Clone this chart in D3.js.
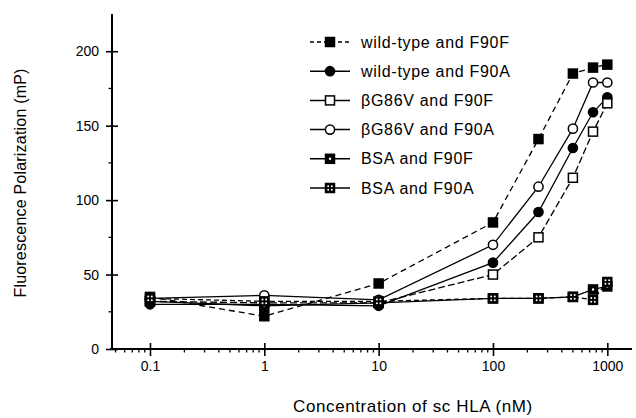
<!DOCTYPE html>
<html>
<head>
<meta charset="utf-8">
<script src="https://cdn.jsdelivr.net/npm/d3@7"></script>
<style>
  body{margin:0;background:#fff;}
  svg{display:block;font-family:"Liberation Sans",Arial,sans-serif;}
</style>
</head>
<body>
<svg id="chart" width="636" height="418"></svg>
<script>
// concentrations (nM)
const conc=[0.1,1,10,100,250,500,750,1000]
const seriesNames=['wild-type and F90F','wild-type and F90A','βG86V and F90F','βG86V and F90A','BSA and F90F','BSA and F90A']
const wtF90F=[35,22,44,85,141,185,189,191]
const wtF90A=[30,30,29,58,92,135,159,169]
const bgF90F=[32,31,31,50,75,115,146,165]
const bgF90A=[34,36,33,70,109,148,179,179]
const bsaF90F=[32,29,31,34,34,35,40,42]
const bsaF90A=[34,32,32,34,34,35,33,45]
const xTickVals=[0.1,1,10,100,1000]
const xTickLabels=['0.1','1','10','100','1000']
const yTickVals=[0,50,100,150,200]

const svg=d3.select('#chart')
const x=d3.scaleLog().domain([0.0447,1644]).range([110,632])
const y=d3.scaleLinear().domain([0,225]).range([349,14])

const styles=[
  {marker:'square',fill:'#000',dash:'6,4'},
  {marker:'circle',fill:'#000',dash:null},
  {marker:'square',fill:'#fff',dash:'7,3'},
  {marker:'circle',fill:'#fff',dash:null},
  {marker:'squareDot',fill:'#000',dash:null},
  {marker:'squareX',fill:'#000',dash:'5,3'}
]
const allSeries=[wtF90F,wtF90A,bgF90F,bgF90A,bsaF90F,bsaF90A]

// axes
const xMinor=[]
for(let e=-2;e<=3;e++){
  for(let m=2;m<=9;m++){
    const v=m*Math.pow(10,e)
    if(v>x.domain()[0]&&v<x.domain()[1])xMinor.push(v)
  }
}
const xAxis=svg.append('g').attr('class','axisX').attr('transform','translate(0,349)')
xAxis.append('line').attr('x1',110).attr('x2',632).attr('stroke','#000').attr('stroke-width',2)
xAxis.selectAll('line.minor').data(xMinor).enter().append('line')
  .attr('class','minor')
  .attr('x1',d=>x(d)).attr('x2',d=>x(d)).attr('y1',0).attr('y2',3.5)
  .attr('stroke','#000').attr('stroke-width',1.3)
xAxis.call(d3.axisBottom(x).tickValues(xTickVals).tickFormat((d,i)=>xTickLabels[i]).tickSize(7).tickPadding(5))
xAxis.select('.domain').remove()
xAxis.selectAll('g.tick line').attr('y1',-6).attr('y2',7).attr('stroke-width',1.6)
xAxis.selectAll('g.tick text').attr('font-size',14).attr('font-family','"Liberation Sans",Arial,sans-serif').attr('fill','#000')

const yAxis=svg.append('g').attr('class','axisY').attr('transform','translate(112,0)')
yAxis.append('line').attr('y1',y(0)).attr('y2',y(225)).attr('stroke','#000').attr('stroke-width',2)
yAxis.selectAll('line.minor').data([25,75,125,175]).enter().append('line')
  .attr('class','minor')
  .attr('x1',-3.5).attr('x2',0).attr('y1',d=>y(d)).attr('y2',d=>y(d))
  .attr('stroke','#000').attr('stroke-width',1.3)
yAxis.call(d3.axisLeft(y).tickValues(yTickVals).tickSize(6).tickPadding(7))
yAxis.select('.domain').remove()
yAxis.selectAll('g.tick line').attr('x1',-6).attr('x2',6).attr('stroke-width',1.6)
yAxis.selectAll('g.tick text').attr('font-size',14).attr('font-family','"Liberation Sans",Arial,sans-serif').attr('fill','#000')

svg.append('text').attr('x',413).attr('y',412).attr('text-anchor','middle')
  .attr('font-size',17).attr('letter-spacing',0.6).text('Concentration of sc HLA (nM)')
svg.append('text').attr('transform','translate(26,183) rotate(-90)').attr('text-anchor','middle')
  .attr('font-size',16).attr('letter-spacing',0.2).text('Fluorescence Polarization (mP)')

function drawMarker(g,type,fill,cx,cy){
  if(type==='circle'){
    g.append('circle').attr('cx',cx).attr('cy',cy).attr('r',4.6)
      .attr('fill',fill).attr('stroke','#000').attr('stroke-width',1.5)
  }else{
    g.append('rect').attr('x',cx-4.5).attr('y',cy-4.5).attr('width',9).attr('height',9)
      .attr('fill',fill).attr('stroke','#000').attr('stroke-width',1.5)
    if(type==='squareDot'){
      g.append('circle').attr('cx',cx).attr('cy',cy).attr('r',1.2).attr('fill','#fff')
    }
    if(type==='squareX'){
      g.append('circle').attr('cx',cx-1.8).attr('cy',cy-1.8).attr('r',1).attr('fill','#fff')
      g.append('circle').attr('cx',cx+1.8).attr('cy',cy-1.8).attr('r',1).attr('fill','#fff')
      g.append('circle').attr('cx',cx-1.8).attr('cy',cy+1.8).attr('r',1).attr('fill','#fff')
      g.append('circle').attr('cx',cx+1.8).attr('cy',cy+1.8).attr('r',1).attr('fill','#fff')
    }
  }
}

const line=d3.line().x(d=>x(d[0])).y(d=>y(d[1]))
allSeries.forEach((vals,i)=>{
  const pts=conc.map((c,j)=>[c,vals[j]])
  svg.append('path').datum(pts).attr('d',line)
    .attr('fill','none').attr('stroke','#000').attr('stroke-width',1.3)
    .attr('stroke-dasharray',styles[i].dash)
})
allSeries.forEach((vals,i)=>{
  const g=svg.append('g').attr('class','marks')
  conc.forEach((c,j)=>drawMarker(g,styles[i].marker,styles[i].fill,x(c),y(vals[j])))
})

// legend
const legend=svg.append('g').attr('class','legend')
seriesNames.forEach((name,i)=>{
  const ly=42+i*29.2
  legend.append('line').attr('x1',310).attr('x2',350).attr('y1',ly).attr('y2',ly)
    .attr('stroke','#000').attr('stroke-width',1.5).attr('stroke-dasharray',i===0?'4,3':null)
  drawMarker(legend,styles[i].marker,styles[i].fill,330,ly)
  legend.append('text').attr('x',361).attr('y',ly).attr('dy','0.35em')
    .attr('font-size',16).attr('letter-spacing',0.7).text(name)
})
</script>
</body>
</html>
